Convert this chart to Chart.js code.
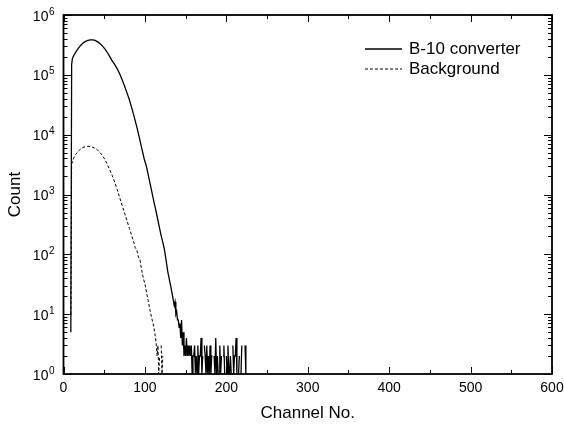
<!DOCTYPE html>
<html>
<head>
<meta charset="utf-8">
<script src="https://cdn.jsdelivr.net/npm/chart.js@4.4.0/dist/chart.umd.min.js"></script>
<style>
  html, body { margin: 0; padding: 0; background: #fff; }
  #wrap { width: 564px; height: 425px; }
</style>
</head>
<body>
<div id="wrap"><canvas id="specChart" width="564" height="425"></canvas></div>
<script>
// B-10 converter spectrum (channel, count)
var b10Chan = [9, 10, 11, 13, 15, 18, 21, 24, 27, 30, 33, 36, 39, 42, 45, 48, 51, 54, 57, 60,
  63, 66, 69, 72, 75, 78, 81, 84, 87, 90, 93, 96, 99, 102, 105, 108, 111, 114, 117, 120,
  122, 124, 126, 128, 130, 132, 134, 136, 137, 138, 139, 140,
  141, 142, 143, 144, 145, 146, 147, 148, 149, 150, 151, 152, 153, 154, 155, 156, 157, 158, 159, 160,
  161, 162, 163, 164, 165, 166, 167, 168, 169, 170, 171, 172, 173, 174, 175, 176, 177, 178, 179, 180,
  181, 182, 183, 184, 185, 186, 187, 188, 189, 190, 191, 192, 193, 194, 195, 196, 197, 198, 199, 200,
  201, 202, 203, 204, 205, 206, 207, 208, 209, 210, 211, 212, 213, 214, 215, 216, 217, 218, 219, 220,
  221, 222, 223, 224, 225, 226, 241, 242, 243, 244, 245, 246, 250];
var b10Count = [5, 150000, 190000, 215000, 240000, 275000, 310000, 340000, 362000, 377000, 385000, 385000, 376000, 355000, 331000, 302000, 270000, 234000, 200000, 170000,
  148000, 126000, 104000, 83000, 65000, 50000, 38000, 27500, 19500, 13500, 9100, 6000, 4000, 2900, 1860, 1200, 760, 500, 316, 204,
  158, 120, 80, 52, 38, 28, 20, 14, 16, 10, 11, 8,
  8, 6, 7, 4, 8, 3, 5, 2, 3, 2, 4, 2, 3, 2, 3, 2, 3, 1, 2, 2,
  3, 1, 2, 1, 3, 1, 2, 2, 4, 1, 2, 0, 3, 2, 1, 3, 1, 2, 1, 3,
  1, 2, 2, 0, 2, 1, 4, 1, 2, 1, 1, 3, 1, 2, 0, 2, 3, 1, 0, 2,
  1, 3, 1, 1, 2, 1, 0, 3, 1, 2, 2, 4, 1, 0, 1, 2, 0, 1, 3, 0,
  1, 0, 3, 1, 0, 0, 0, 2, 0, 0, 2, 0, 0];

// background run
var bgChan = [9, 10, 11, 13, 15, 18, 21, 24, 27, 30, 33, 36, 39, 42, 45, 48, 51, 54, 57, 60,
  63, 66, 69, 72, 75, 78, 81, 84, 86, 88, 90, 92, 94, 96, 98, 100, 102, 104, 106, 108,
  110, 111, 112, 113, 114, 115, 116, 117, 118, 119, 120, 121, 122, 123];
var bgCount = [10, 3200, 3600, 4200, 4700, 5250, 5750, 6100, 6300, 6400, 6300, 6150, 5900, 5500, 5000, 4450, 3800, 3150, 2550, 2050,
  1600, 1200, 890, 660, 490, 365, 270, 200, 165, 130, 118, 90, 80, 55, 40, 32, 23, 17, 12, 9,
  7, 6, 5, 4, 3, 2, 3, 1, 2, 0, 3, 1, 2, 0];

var seriesNames = ['B-10 converter', 'Background'];
var xTickVals = [0, 100, 200, 300, 400, 500, 600];
var yDecades = [0, 1, 2, 3, 4, 5, 6];

var FONT = 'Liberation Sans, Arial, Helvetica, sans-serif';

function toPts(xs, ys) {
  return xs.map(function (c, i) { return { x: c, y: ys[i] }; });
}

// frame, inward ticks, 10^n labels and the legend (Origin-style)
var framePlugin = {
  id: 'frame',
  afterDraw: function (chart) {
    var ctx = chart.ctx, a = chart.chartArea;
    var xs = chart.scales.x, ys = chart.scales.y;
    ctx.save();
    ctx.strokeStyle = '#000';
    ctx.lineWidth = 1.8;
    ctx.strokeRect(a.left, a.top, a.right - a.left, a.bottom - a.top);

    ctx.lineWidth = 1;
    ctx.beginPath();
    for (var v = 0; v <= 600; v += 50) {
      var px = Math.round(xs.getPixelForValue(v)) + 0.5;
      var len = (v % 100 === 0) ? 7 : 4;
      ctx.moveTo(px, a.bottom); ctx.lineTo(px, a.bottom - len);
      ctx.moveTo(px, a.top); ctx.lineTo(px, a.top + len);
    }
    yDecades.forEach(function (d) {
      for (var m = 1; m <= 9; m++) {
        if (d === 6 && m > 1) break;
        var py = Math.round(ys.getPixelForValue(m * Math.pow(10, d))) + 0.5;
        var len = (m === 1) ? 8 : 4;
        ctx.moveTo(a.left, py); ctx.lineTo(a.left + len, py);
        ctx.moveTo(a.right, py); ctx.lineTo(a.right - len, py);
      }
    });
    ctx.stroke();

    // y labels as 10 with raised exponent
    ctx.fillStyle = '#000';
    ctx.textBaseline = 'alphabetic';
    yDecades.forEach(function (d) {
      var py = ys.getPixelForValue(Math.pow(10, d));
      ctx.font = '10px ' + FONT;
      var ew = ctx.measureText(String(d)).width;
      ctx.textAlign = 'left';
      ctx.fillText(String(d), a.left - 9 - ew, py - 0.5);
      ctx.font = '14px ' + FONT;
      ctx.textAlign = 'right';
      ctx.fillText('10', a.left - 9 - ew - 0.5, py + 5.5);
    });

    // legend
    var lx0 = 365, lx1 = 402, tx = 409;
    chart.data.datasets.forEach(function (ds, i) {
      var ly = 49 + i * 20;
      ctx.strokeStyle = '#000';
      ctx.lineWidth = ds.borderWidth;
      ctx.setLineDash(ds.borderDash || []);
      ctx.beginPath();
      ctx.moveTo(lx0, ly); ctx.lineTo(lx1, ly);
      ctx.stroke();
      ctx.setLineDash([]);
      ctx.font = '17px ' + FONT;
      ctx.textAlign = 'left';
      ctx.textBaseline = 'middle';
      ctx.fillText(ds.label, tx, ly + 0.5);
    });
    ctx.restore();
  }
};

var ctx = document.getElementById('specChart').getContext('2d');
new Chart(ctx, {
  type: 'line',
  data: {
    datasets: [
      { label: seriesNames[0], data: toPts(b10Chan, b10Count), borderColor: '#000', borderWidth: 1.3,
        pointRadius: 0, fill: false, tension: 0 },
      { label: seriesNames[1], data: toPts(bgChan, bgCount), borderColor: '#000', borderWidth: 1,
        borderDash: [3, 2], pointRadius: 0, fill: false, tension: 0 }
    ]
  },
  options: {
    responsive: false,
    animation: false,
    layout: { padding: { top: 15, right: 12, left: 0, bottom: 0 } },
    plugins: { legend: { display: false }, tooltip: { enabled: false } },
    scales: {
      x: {
        type: 'linear', min: 0, max: 600,
        // ticks are drawn by the plugin, tickLength only spaces the labels
        grid: { display: false, drawTicks: true, tickLength: 6 },
        border: { display: false },
        afterBuildTicks: function (s) { s.ticks = xTickVals.map(function (v) { return { value: v }; }); },
        ticks: { padding: 0, color: '#000', font: { family: FONT, size: 14 }, maxRotation: 0 },
        title: { display: true, text: 'Channel No.', color: '#000', font: { family: FONT, size: 17 }, padding: { top: 0, bottom: 1 } },
        afterFit: function (s) { s.height = 51; }
      },
      y: {
        type: 'logarithmic', min: 1, max: 1e6,
        grid: { display: false, drawTicks: false },
        border: { display: false },
        ticks: { display: false },
        title: { display: true, text: 'Count', color: '#000', font: { family: FONT, size: 17 }, padding: { top: 5, bottom: 0 } },
        afterFit: function (s) { s.width = 63.5; }
      }
    }
  },
  plugins: [framePlugin]
});
</script>
</body>
</html>
